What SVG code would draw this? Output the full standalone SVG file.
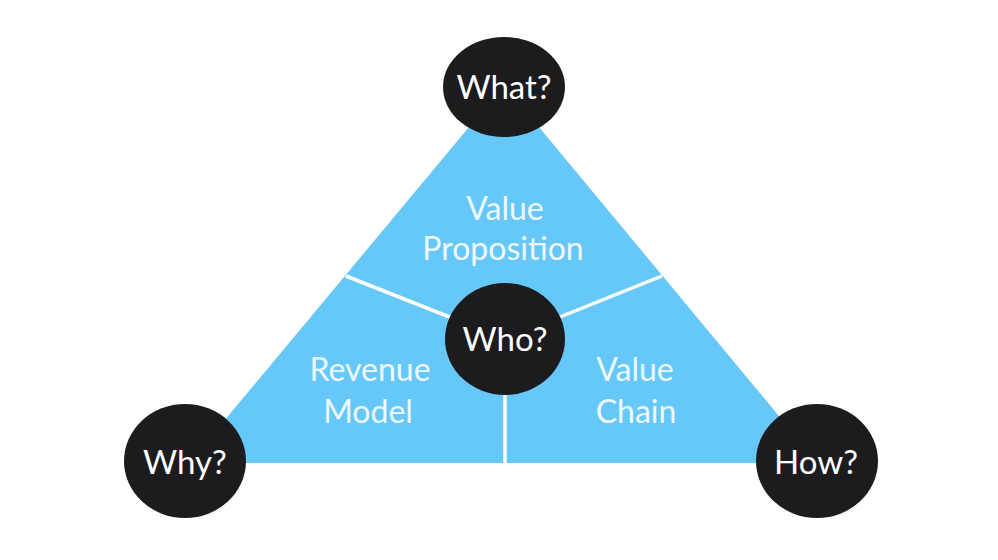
<svg xmlns="http://www.w3.org/2000/svg" width="998" height="560" viewBox="0 0 998 560">
  <style>
    .tri { fill: #66c8f8; }
    .div { stroke: #ffffff; stroke-width: 3.5; fill: none; }
    .dot { fill: #1c1c1e; }
    .q { font-family: Lato, "Open Sans", "Liberation Sans", sans-serif; font-size: 33px; fill: #ffffff; text-anchor: middle; }
    .lbl { font-family: Lato, "Open Sans", "Liberation Sans", sans-serif; font-size: 32px; fill: #eef8ff; text-anchor: middle; }
  </style>
  <rect width="998" height="560" fill="#ffffff"/>
  <g id="triangle">
    <polygon class="tri" points="504,85 189,463 818,463"/>
  </g>
  <g id="connectors">
    <line class="div" x1="346" y1="276" x2="505" y2="339"/>
    <line class="div" x1="662" y1="276" x2="505" y2="339"/>
    <line class="div" x1="505" y1="339" x2="505" y2="464"/>
  </g>
  <g id="value-proposition">
    <text class="lbl" x="505" y="220">Value</text>
    <text class="lbl" x="503" y="260">Proposition</text>
  </g>
  <g id="revenue-model">
    <text class="lbl" x="370" y="381">Revenue</text>
    <text class="lbl" x="368" y="423">Model</text>
  </g>
  <g id="value-chain">
    <text class="lbl" x="635" y="381">Value</text>
    <text class="lbl" x="636" y="423">Chain</text>
  </g>
  <g id="what">
    <ellipse class="dot" cx="504" cy="87" rx="61" ry="50"/>
    <text class="q" x="504" y="99">What?</text>
  </g>
  <g id="who">
    <ellipse class="dot" cx="505" cy="339" rx="60" ry="56"/>
    <text class="q" x="505" y="351">Who?</text>
  </g>
  <g id="why">
    <ellipse class="dot" cx="185" cy="461" rx="61" ry="57"/>
    <text class="q" x="185" y="474">Why?</text>
  </g>
  <g id="how">
    <ellipse class="dot" cx="817" cy="461" rx="61" ry="57"/>
    <text class="q" x="816" y="474">How?</text>
  </g>
</svg>
